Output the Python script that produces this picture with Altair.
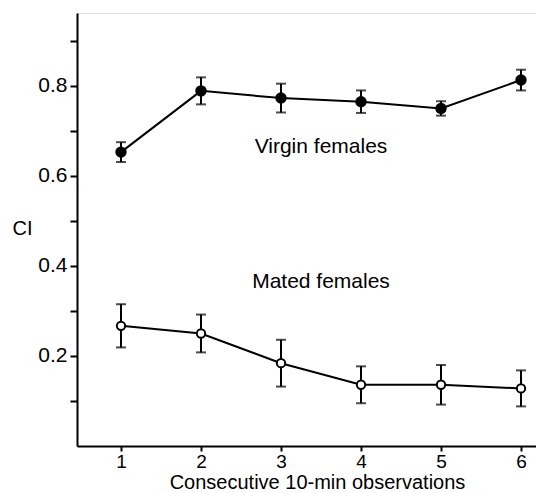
import altair as alt
import pandas as pd

obs = [1, 2, 3, 4, 5, 6]
virgin_ci = [0.653, 0.789, 0.773, 0.765, 0.750, 0.813]
virgin_err = [0.022, 0.030, 0.032, 0.025, 0.016, 0.023]
mated_ci = [0.267, 0.250, 0.184, 0.136, 0.136, 0.128]
mated_err = [0.048, 0.042, 0.052, 0.041, 0.044, 0.040]

label_text = ["Virgin females", "Mated females"]
label_x = [3.5, 3.5]
label_y = [0.651, 0.351]

FONT = "Liberation Sans"

rows = []
for i, o in enumerate(obs):
    rows.append({"obs": o, "ci": virgin_ci[i], "lo": virgin_ci[i] - virgin_err[i],
                 "hi": virgin_ci[i] + virgin_err[i], "group": "Virgin"})
    rows.append({"obs": o, "ci": mated_ci[i], "lo": mated_ci[i] - mated_err[i],
                 "hi": mated_ci[i] + mated_err[i], "group": "Mated"})
df = pd.DataFrame(rows)
lab = pd.DataFrame({"text": label_text, "x": label_x, "y": label_y})

xs = alt.Scale(domain=[0.45, 6.1875], nice=False, zero=False)
ys = alt.Scale(domain=[0, 0.962], nice=False, zero=False)

xaxis = alt.Axis(values=obs, format="d", title="Consecutive 10-min observations",
                 grid=False, domainColor="black", domainWidth=2, tickColor="black",
                 tickWidth=2, tickSize=5, labelPadding=1, labelFontSize=19,
                 labelFont=FONT, labelColor="black", titleFont=FONT, titleFontSize=20,
                 titleFontWeight="normal", titleColor="black", titleX=240,
                 titleY=42, titleBaseline="alphabetic", titleAlign="center")
yaxis = alt.Axis(values=[0.1, 0.2, 0.3, 0.4, 0.5, 0.6, 0.7, 0.8, 0.9],
                 labelExpr="(round(datum.value*10) % 2 == 0) ? format(datum.value, '.1f') : ''",
                 title="CI", grid=False, domainColor="black", domainWidth=2,
                 tickColor="black", tickWidth=2, tickSize=7, labelPadding=3,
                 labelFontSize=21, labelFont=FONT, labelColor="black",
                 titleFont=FONT, titleFontSize=20, titleFontWeight="normal",
                 titleColor="black", titleAngle=0, titleAlign="left",
                 titleBaseline="alphabetic", titleX=-65, titleY=221)

base = alt.Chart(df)

lines = base.mark_line(color="black", strokeWidth=2).encode(
    x=alt.X("obs:Q", scale=xs, axis=xaxis),
    y=alt.Y("ci:Q", scale=ys, axis=yaxis),
    detail="group:N",
)
bars = base.mark_rule(color="black", strokeWidth=2).encode(
    x="obs:Q", y="lo:Q", y2="hi:Q")
cap_lo = base.mark_tick(color="black", orient="horizontal", size=10, thickness=2).encode(
    x="obs:Q", y="lo:Q")
cap_hi = base.mark_tick(color="black", orient="horizontal", size=10, thickness=2).encode(
    x="obs:Q", y="hi:Q")
pts_v = alt.Chart(df[df.group == "Virgin"]).mark_point(
    shape="circle", filled=True, color="black", size=130, opacity=1).encode(
    x="obs:Q", y="ci:Q")
pts_m = alt.Chart(df[df.group == "Mated"]).mark_point(
    shape="circle", filled=True, fill="white", stroke="black", strokeWidth=2,
    size=70, opacity=1).encode(x="obs:Q", y="ci:Q")
texts = alt.Chart(lab).mark_text(font=FONT, fontSize=21, color="black",
                                 baseline="alphabetic", align="center").encode(
    x="x:Q", y="y:Q", text="text:N")

chart = alt.layer(lines, bars, cap_lo, cap_hi, pts_v, pts_m, texts).properties(
    width=459, height=433,
    autosize=alt.AutoSizeParams(type="none"),
    padding={"left": 69, "top": 5, "right": 0, "bottom": 47},
).configure_view(stroke=None).configure(background="white")

chart.save("out.html", embed_options={"renderer": "svg", "actions": False})
